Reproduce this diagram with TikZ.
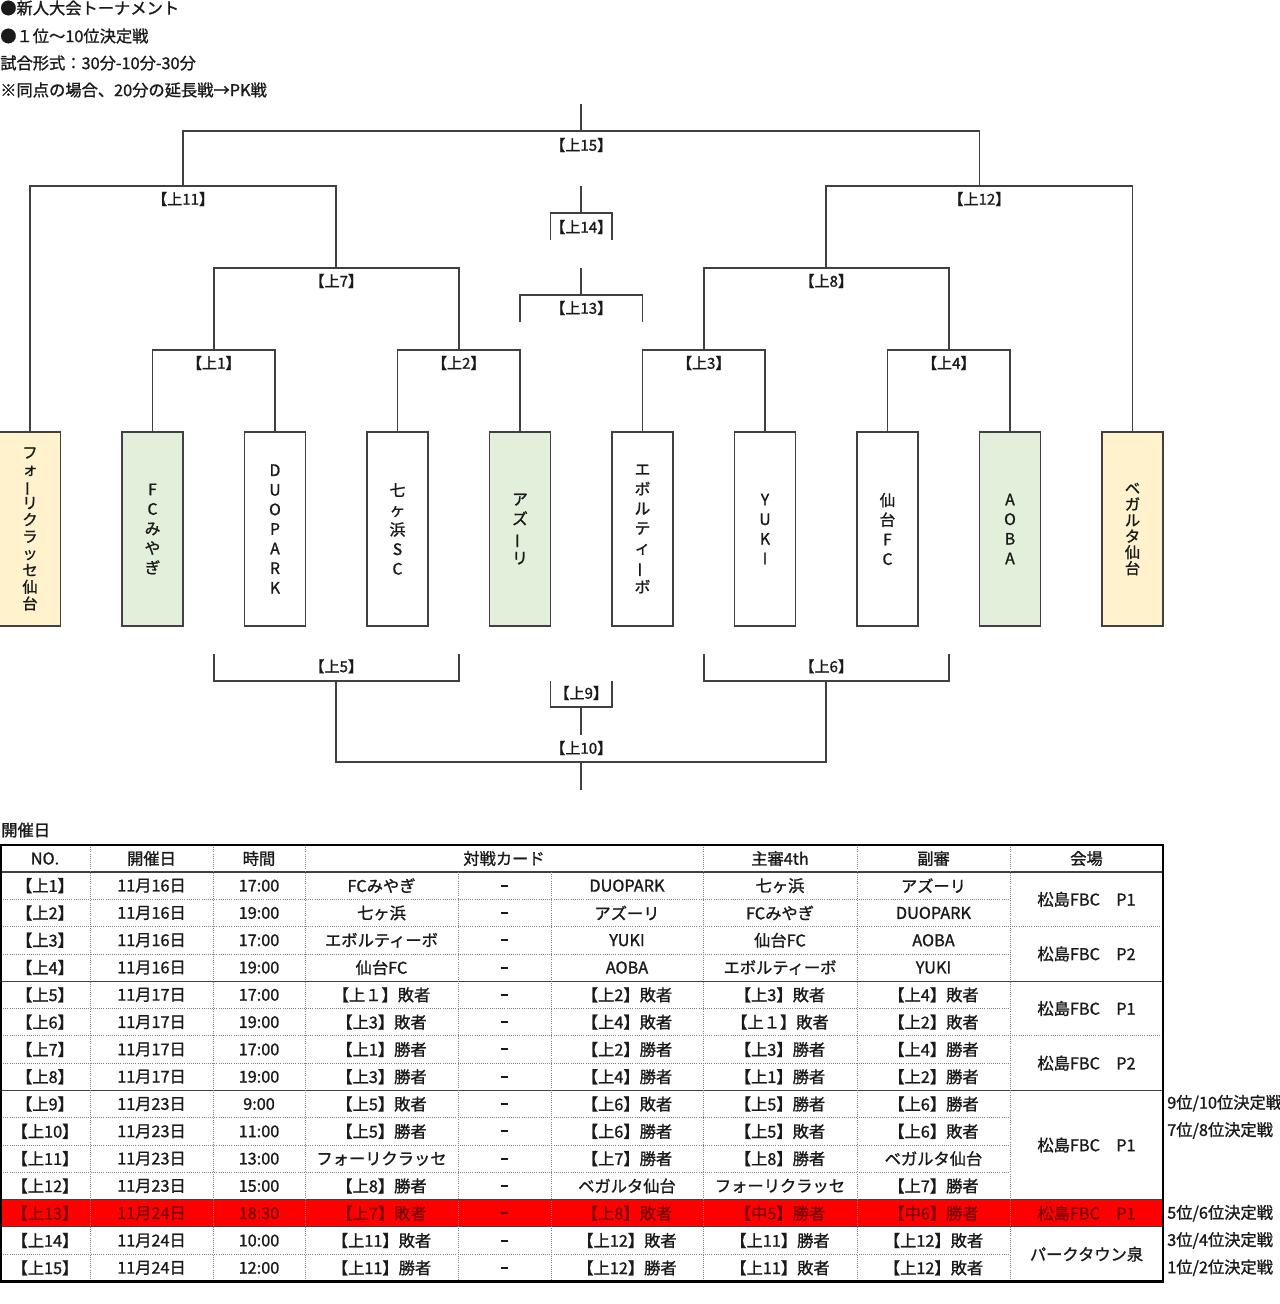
\documentclass[tikz,border=0pt]{standalone}
\usepackage{fontspec}
\setmainfont{Noto Sans CJK JP}[FakeBold=1.2]
\definecolor{ln}{HTML}{404040}
\definecolor{boxy}{HTML}{FFF2CC}
\definecolor{boxg}{HTML}{E2EFDA}
\definecolor{rowred}{HTML}{FF0000}
\definecolor{redtxt}{HTML}{7A0006}
\definecolor{dotc}{HTML}{808080}
\definecolor{txt}{HTML}{1A1A1A}
\newcommand\vbar{\rotatebox[origin=c]{90}{ー}}
\tikzset{
  bline/.style={draw=ln, line width=1.3pt},
  teambox/.style={draw=ln, line width=1.4pt, minimum width=45.75pt, minimum height=145.5pt, inner sep=0pt, align=center, text=txt},
  vt/.style={font=\fontsize{11.8}{14.7}\selectfont},
  vtn/.style={font=\fontsize{11.5}{12.6}\selectfont},
  lbl/.style={font=\fontsize{11.3}{13}\selectfont, inner sep=1pt, text=txt},
  cell/.style={font=\fontsize{12.2}{14}\selectfont, inner sep=0pt, text=txt},
  note/.style={font=\fontsize{12.2}{14}\selectfont, inner sep=0pt, anchor=west, text=txt},
  dotl/.style={draw=dotc, line width=0.6pt, dash pattern=on 0.7pt off 0.9pt},
  soll/.style={draw=ln, line width=0.8pt},
}
\begin{document}
\begin{tikzpicture}[x=0.75pt,y=-0.75pt]
\useasboundingbox (0,0) rectangle (1280,1304);

% ---------- notes ----------
\node[note] (n1) at (0,8) {●新人大会トーナメント};
\node[note] (n2) at (0,36) {●１位～10位決定戦};
\node[note] (n3) at (0,63) {試合形式：30分-10分-30分};
\node[note] (n4) at (0,90) {※同点の場合、20分の延長戦→PK戦};

% ---------- team boxes ----------
\node[teambox, fill=boxy, vtn] (b1) at (30,529) {フ\\ォ\\\vbar\\リ\\ク\\ラ\\ッ\\セ\\仙\\台};
\node[teambox, fill=boxg, vt] (b2) at (152.5,529) {F\\C\\み\\や\\ぎ};
\node[teambox, fill=white, vt] (b3) at (275,529) {D\\U\\O\\P\\A\\R\\K};
\node[teambox, fill=white, vt] (b4) at (397.5,529) {七\\ヶ\\浜\\S\\C};
\node[teambox, fill=boxg, vt] (b5) at (520,529) {ア\\ズ\\\vbar\\リ};
\node[teambox, fill=white, vt] (b6) at (642.5,529) {エ\\ボ\\ル\\テ\\ィ\\\vbar\\ボ};
\node[teambox, fill=white, vt] (b7) at (765,529) {Y\\U\\K\\I};
\node[teambox, fill=white, vt] (b8) at (887.5,529) {仙\\台\\F\\C};
\node[teambox, fill=boxg, vt] (b9) at (1010,529) {A\\O\\B\\A};
\node[teambox, fill=boxy, font=\fontsize{11.5}{12}\selectfont] (b10) at (1132.5,529) {ベ\\ガ\\ル\\タ\\仙\\台};

% ---------- junctions ----------
\coordinate (m1) at (213.75,350);
\coordinate (m2) at (458.75,350);
\coordinate (m3) at (703.75,350);
\coordinate (m4) at (948.75,350);
\coordinate (m7) at (336.25,268);
\coordinate (m8) at (826.25,268);
\coordinate (m11) at (183.1,186);
\coordinate (m12) at (979.4,186);
\coordinate (m15) at (581.25,131);
\coordinate (top) at (581.25,104);
\coordinate (m14s) at (581.25,186);
\coordinate (m14) at (581.25,213);
\coordinate (m14l) at (550.5,240);
\coordinate (m14r) at (612,240);
\coordinate (m13s) at (581.25,268);
\coordinate (m13) at (581.25,295);
\coordinate (m13l) at (520,322);
\coordinate (m13r) at (642.5,322);
\coordinate (m5) at (336.25,681);
\coordinate (m5l) at (213.75,654);
\coordinate (m5r) at (458.75,654);
\coordinate (m6) at (826.25,681);
\coordinate (m6l) at (703.75,654);
\coordinate (m6r) at (948.75,654);
\coordinate (m9) at (581.25,707);
\coordinate (m9l) at (550.5,681);
\coordinate (m9r) at (612,681);
\coordinate (m9s) at (581.25,735);
\coordinate (m10) at (581.25,762);
\coordinate (bot) at (581.25,790);

% ---------- bracket lines ----------
\draw[bline] (b2.north) |- (m1) -| (b3.north);
\draw[bline] (b4.north) |- (m2) -| (b5.north);
\draw[bline] (b6.north) |- (m3) -| (b7.north);
\draw[bline] (b8.north) |- (m4) -| (b9.north);
\draw[bline] (m1) |- (m7) -| (m2);
\draw[bline] (m3) |- (m8) -| (m4);
\draw[bline] (b1.north) |- (m11) -| (m7);
\draw[bline] (m8) |- (m12) -| (b10.north);
\draw[bline] (m11) |- (m15) -| (m12);
\draw[bline] (m15) -- (top);
\draw[bline] (m14s) -- (m14);
\draw[bline] (m14l) |- (m14) -| (m14r);
\draw[bline] (m13s) -- (m13);
\draw[bline] (m13l) |- (m13) -| (m13r);
\draw[bline] (m5l) |- (m5) -| (m5r);
\draw[bline] (m6l) |- (m6) -| (m6r);
\draw[bline] (m5) |- (m10) -| (m6);
\draw[bline] (m9l) |- (m9) -| (m9r);
\draw[bline] (m9) -- (m9s);
\draw[bline] (m10) -- (bot);

% ---------- bracket labels ----------
\node[lbl] (l1) at ([yshift=-9.75pt]m1) {【上1】};
\node[lbl] (l2) at ([yshift=-9.75pt]m2) {【上2】};
\node[lbl] (l3) at ([yshift=-9.75pt]m3) {【上3】};
\node[lbl] (l4) at ([yshift=-9.75pt]m4) {【上4】};
\node[lbl] (l7) at ([yshift=-9.75pt]m7) {【上7】};
\node[lbl] (l8) at ([yshift=-9.75pt]m8) {【上8】};
\node[lbl] (l11) at ([yshift=-9.75pt]m11) {【上11】};
\node[lbl] (l12) at ([yshift=-9.75pt]m12) {【上12】};
\node[lbl] (l15) at ([yshift=-10.5pt]m15) {【上15】};
\node[lbl] (l14) at ([yshift=-10.5pt]m14) {【上14】};
\node[lbl] (l13) at ([yshift=-9.75pt]m13) {【上13】};
\node[lbl] (l5) at ([yshift=11pt]m5) {【上5】};
\node[lbl] (l6) at ([yshift=11pt]m6) {【上6】};
\node[lbl] (l9) at ([yshift=10.5pt]m9) {【上9】};
\node[lbl] (l10) at ([yshift=10.5pt]m10) {【上10】};

% ---------- table ----------
\node[note] (ttl) at (1,830) {開催日};
\fill[rowred] (1,1199.6) rectangle (1163,1226.9);

\foreach \k in {1,3,5,7,9,10,11,14} \draw[dotl] (1,{872+\k*27.3}) -- (1010,{872+\k*27.3});
\foreach \k in {2,6} \draw[dotl] (1,{872+\k*27.3}) -- (1163,{872+\k*27.3});
\foreach \k in {4,8,12,13} \draw[soll] (1,{872+\k*27.3}) -- (1163,{872+\k*27.3});
\draw[soll] (1,872) -- (1163,872);
\foreach \x in {90,213,305,703,857,1010} \draw[dotl] (\x,845) -- (\x,1281.5);
\foreach \x in {458,551} \draw[dotl] (\x,872) -- (\x,1281.5);
\draw[line width=2pt, black] (1,845) rectangle (1163,1281.5);

\node[cell] (hno) at (45,858.5) {NO.};
\node[cell] (hdate) at (151.5,858.5) {開催日};
\node[cell] (htime) at (259,858.5) {時間};
\node[cell] (hcard) at (504,858.5) {対戦カード};
\node[cell] (href) at (780,858.5) {主審4th};
\node[cell] (hass) at (933.5,858.5) {副審};
\node[cell] (hven) at (1086.5,858.5) {会場};

\foreach \n/\d/\t/\a/\b/\r/\s [count=\i] in {
 【上1】/11月16日/17:00/FCみやぎ/DUOPARK/七ヶ浜/アズーリ,
 【上2】/11月16日/19:00/七ヶ浜/アズーリ/FCみやぎ/DUOPARK,
 【上3】/11月16日/17:00/エボルティーボ/YUKI/仙台FC/AOBA,
 【上4】/11月16日/19:00/仙台FC/AOBA/エボルティーボ/YUKI,
 【上5】/11月17日/17:00/【上１】敗者/【上2】敗者/【上3】敗者/【上4】敗者,
 【上6】/11月17日/19:00/【上3】敗者/【上4】敗者/【上１】敗者/【上2】敗者,
 【上7】/11月17日/17:00/【上1】勝者/【上2】勝者/【上3】勝者/【上4】勝者,
 【上8】/11月17日/19:00/【上3】勝者/【上4】勝者/【上1】勝者/【上2】勝者,
 【上9】/11月23日/9:00/【上5】敗者/【上6】敗者/【上5】勝者/【上6】勝者,
 【上10】/11月23日/11:00/【上5】勝者/【上6】勝者/【上5】敗者/【上6】敗者,
 【上11】/11月23日/13:00/フォーリクラッセ/【上7】勝者/【上8】勝者/ベガルタ仙台,
 【上12】/11月23日/15:00/【上8】勝者/ベガルタ仙台/フォーリクラッセ/【上7】勝者,
 【上13】/11月24日/18:30/【上7】敗者/【上8】敗者/【中5】勝者/【中6】勝者,
 【上14】/11月24日/10:00/【上11】敗者/【上12】敗者/【上11】勝者/【上12】敗者,
 【上15】/11月24日/12:00/【上11】勝者/【上12】勝者/【上11】敗者/【上12】敗者}{
  \pgfmathsetmacro\yy{872+(\i-0.5)*27.3}
  \ifnum\i=13 \def\tc{redtxt}\else\def\tc{txt}\fi
  \node[cell,text=\tc] (no\i) at (45,\yy) {\n};
  \node[cell,text=\tc] (dt\i) at (151.5,\yy) {\d};
  \node[cell,text=\tc] (tm\i) at (259,\yy) {\t};
  \node[cell,text=\tc] (ta\i) at (381.5,\yy) {\a};
  \node[cell,text=\tc] (ds\i) at (504.5,\yy) {\rule{5.5pt}{1.5pt}};
  \node[cell,text=\tc] (tb\i) at (627,\yy) {\b};
  \node[cell,text=\tc] (rf\i) at (780,\yy) {\r};
  \node[cell,text=\tc] (as\i) at (933.5,\yy) {\s};
}

\node[cell] (v1) at (1086.5,899.3) {松島FBC　P1};
\node[cell] (v2) at (1086.5,953.9) {松島FBC　P2};
\node[cell] (v3) at (1086.5,1008.5) {松島FBC　P1};
\node[cell] (v4) at (1086.5,1063.1) {松島FBC　P2};
\node[cell] (v5) at (1086.5,1145) {松島FBC　P1};
\node[cell,text=redtxt] (v6) at (1086.5,1213.25) {松島FBC　P1};
\node[cell] (v7) at (1086.5,1254.2) {パークタウン泉};

\node[note] (r9) at (1167,1103.2) {9位/10位決定戦};
\node[note] (r10) at (1167,1130.5) {7位/8位決定戦};
\node[note] (r13) at (1167,1213.25) {5位/6位決定戦};
\node[note] (r14) at (1167,1240.5) {3位/4位決定戦};
\node[note] (r15) at (1167,1267.8) {1位/2位決定戦};
\end{tikzpicture}
\end{document}
